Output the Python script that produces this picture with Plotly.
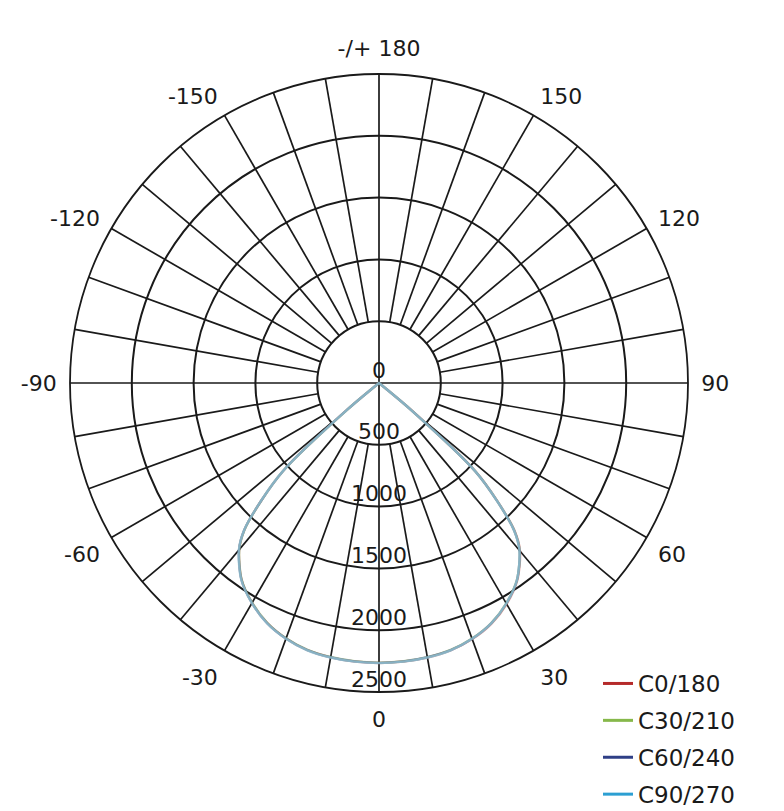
import plotly.graph_objects as go

# gamma angles (deg) and luminous intensity (cd) per C-plane half
gamma = [0, 5, 10, 15, 20, 25, 30, 35, 40, 42.5, 45, 47.5, 50, 52.5, 55, 90, 180]

c0 = [2265, 2262, 2255, 2240, 2205, 2150, 2065, 1950, 1775, 1625, 1360, 1060, 340, 0, 0, 0, 0]
c180 = [2265, 2262, 2254, 2238, 2200, 2142, 2055, 1940, 1760, 1612, 1350, 1050, 330, 0, 0, 0, 0]
c30 = [2262, 2260, 2252, 2236, 2200, 2145, 2058, 1945, 1770, 1620, 1355, 1055, 335, 0, 0, 0, 0]
c210 = [2262, 2259, 2251, 2235, 2198, 2140, 2052, 1938, 1758, 1610, 1348, 1048, 328, 0, 0, 0, 0]
c60 = [2264, 2261, 2253, 2238, 2202, 2146, 2060, 1946, 1768, 1618, 1352, 1052, 332, 0, 0, 0, 0]
c240 = [2264, 2261, 2253, 2237, 2200, 2143, 2055, 1941, 1762, 1614, 1350, 1050, 330, 0, 0, 0, 0]
c90 = [2266, 2263, 2255, 2239, 2203, 2147, 2060, 1946, 1768, 1618, 1354, 1054, 334, 0, 0, 0, 0]
c270 = [2266, 2263, 2255, 2239, 2202, 2145, 2057, 1943, 1764, 1615, 1352, 1052, 332, 0, 0, 0, 0]

planes = ['C0/180', 'C30/210', 'C60/240', 'C90/270']
plane_data = [(c0, c180), (c30, c210), (c60, c240), (c90, c270)]
colors = ['#b52a2a', '#86b84a', '#2f3f86', '#2c9fd2']
faded = ['rgba(181,42,42,0.45)', 'rgba(134,184,74,0.45)',
         'rgba(47,63,134,0.45)', 'rgba(140,196,218,0.75)']

ring_vals = [0, 500, 1000, 1500, 2000, 2500]
ang_ticks = [0, 30, 60, 90, 120, 150, 180, 210, 240, 270, 300, 330]
ang_text = ['0', '30', '60', '90', '120', '150', '-/+ 180',
            '-150', '-120', '-90', '-60', '-30']

FONT = 'DejaVu Sans'
INK = '#1a1a1a'

fig = go.Figure()

# spokes every 10 degrees, main axes go through the centre
sr, st = [], []
for a in range(0, 360, 10):
    sr += [0 if a % 90 == 0 else 500, 2500, None]
    st += [a, a, None]
fig.add_trace(go.Scatterpolar(r=sr, theta=st, mode='lines',
                              line=dict(color=INK, width=1.7),
                              showlegend=False, hoverinfo='skip'))

# curves: right half = C, left half = C+180
for name, (right, left), col in zip(planes, plane_data, faded):
    r = left[::-1] + right[1:]
    th = [-g for g in gamma[::-1]] + gamma[1:]
    fig.add_trace(go.Scatterpolar(r=r, theta=th, mode='lines',
                                  line=dict(color=col, width=2.4, shape='spline', smoothing=0.8),
                                  showlegend=False, name=name))

# legend entries with the strong colours
for name, col in zip(planes, colors):
    fig.add_trace(go.Scatterpolar(r=[None], theta=[None], mode='lines',
                                  line=dict(color=col, width=3), name=name,
                                  legendgroup=name))

# radial labels along the 0 direction
fig.add_trace(go.Scatterpolar(r=ring_vals, theta=[0] * len(ring_vals), mode='text',
                              text=[str(v) for v in ring_vals],
                              textposition='top center',
                              textfont=dict(family=FONT, size=22, color=INK),
                              showlegend=False, hoverinfo='skip'))

fig.update_layout(
    width=784, height=811,
    margin=dict(l=0, r=0, t=0, b=0),
    paper_bgcolor='white',
    font=dict(family=FONT, size=22, color=INK),
    polar=dict(
        domain=dict(x=[62 / 784, 680 / 784], y=[127 / 811, 745 / 811]),
        bgcolor='white',
        radialaxis=dict(range=[0, 2500], tickvals=ring_vals[1:], showticklabels=False,
                        ticks='', showline=False, gridcolor=INK, gridwidth=1.7),
        angularaxis=dict(rotation=-90, direction='counterclockwise',
                         tickvals=ang_ticks, ticktext=ang_text,
                         showgrid=False, showline=True, linecolor=INK, linewidth=1.8,
                         ticks='outside', ticklen=8, tickcolor='rgba(0,0,0,0)',
                         tickfont=dict(family=FONT, size=22)),
    ),
    legend=dict(x=590 / 784, xanchor='left', y=1 - 654 / 811, yanchor='top',
                font=dict(family=FONT, size=23), bgcolor='rgba(0,0,0,0)',
                tracegroupgap=4),
)

fig.write_html("out.html")
